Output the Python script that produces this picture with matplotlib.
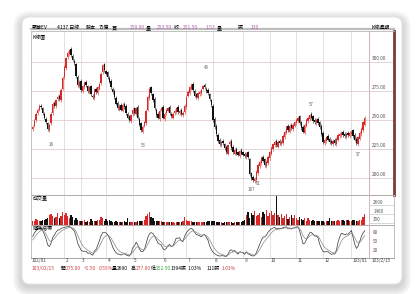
import numpy as np
import matplotlib
matplotlib.use('Agg')
import matplotlib.pyplot as plt
from matplotlib.patches import FancyBboxPatch

plt.rcParams['font.family'] = ['Noto Sans CJK TC', 'DejaVu Sans']

# daily candles
closes = [244, 249, 255, 259, 262, 261, 256, 252, 248, 242,
          246, 255, 264, 262, 267, 270, 268, 276, 286, 296,
          303, 308, 310, 306, 302, 299, 288, 280, 283, 276,
          279, 282, 280, 275, 278, 272, 270, 276, 274, 278,
          281, 290, 297, 293, 290, 287, 283, 278, 274, 270,
          264, 260, 262, 259, 263, 261, 256, 252, 250, 254,
          259, 256, 260, 252, 246, 241, 244, 248, 258, 270,
          277, 273, 267, 260, 254, 252, 258, 260, 252, 255,
          259, 260, 256, 253, 255, 258, 260, 257, 258, 255,
          256, 262, 270, 274, 278, 280, 276, 271, 270, 273,
          274, 276, 279, 278, 275, 273, 268, 263, 250, 244,
          238, 232, 229, 231, 230, 226, 222, 228, 231, 226,
          222, 224, 221, 220, 223, 221, 220, 219, 221, 218,
          203, 200, 198, 199, 205, 211, 214, 217, 215, 211,
          214, 218, 222, 226, 229, 231, 228, 231, 230, 231,
          236, 240, 244, 241, 245, 243, 246, 248, 250, 252,
          247, 243, 240, 246, 250, 252, 254, 252, 249, 248,
          250, 247, 244, 238, 231, 233, 235, 233, 231, 230,
          232, 230, 234, 237, 238, 239, 237, 236, 238, 237,
          239, 240, 236, 233, 230, 235, 239, 242, 248, 252]
opens = [242, 245, 250, 256, 259, 262, 260, 255, 251, 247,
         241, 247, 256, 265, 262, 268, 271, 267, 277, 287,
         295, 304, 307, 311, 305, 301, 298, 287, 279, 284,
         275, 278, 283, 279, 274, 279, 271, 269, 277, 273,
         277, 282, 291, 298, 292, 291, 286, 284, 277, 275,
         269, 265, 259, 263, 258, 264, 262, 255, 253, 249,
         255, 260, 255, 261, 251, 247, 240, 245, 247, 259,
         269, 278, 272, 268, 259, 255, 251, 259, 261, 251,
         256, 258, 261, 255, 252, 256, 257, 261, 256, 259,
         254, 257, 261, 271, 273, 277, 281, 275, 272, 269,
         272, 273, 277, 280, 277, 276, 272, 267, 262, 251,
         245, 237, 233, 228, 232, 229, 227, 221, 229, 232,
         227, 221, 225, 222, 219, 224, 222, 221, 218, 222,
         216, 204, 201, 197, 198, 204, 210, 213, 218, 216,
         210, 213, 217, 221, 225, 228, 232, 227, 232, 229,
         230, 235, 239, 245, 240, 246, 242, 245, 247, 249,
         253, 248, 244, 239, 245, 249, 251, 255, 253, 250,
         247, 251, 248, 245, 239, 230, 232, 236, 234, 232,
         229, 233, 229, 233, 236, 237, 240, 238, 235, 239,
         236, 238, 241, 237, 234, 229, 234, 238, 241, 246]
volume = [600, 520, 780, 660, 550, 480, 720, 640, 800, 920,
          1300, 1550, 1200, 900, 1100, 1650, 1000, 1250, 1800, 1400,
          1600, 1200, 950, 1300, 1050, 700, 900, 650, 600, 520,
          480, 620, 400, 550, 450, 800, 600, 500, 580, 620,
          700, 1100, 950, 600, 800, 550, 620, 480, 400, 450,
          520, 380, 400, 360, 420, 500, 450, 900, 400, 350,
          380, 450, 400, 500, 600, 500, 520, 650, 1200, 1500,
          1800, 1100, 900, 600, 600, 550, 480, 520, 450, 400,
          420, 380, 450, 400, 360, 340, 400, 380, 420, 360,
          600, 1100, 700, 550, 500, 480, 450, 400, 420, 380,
          360, 400, 450, 380, 420, 500, 600, 480, 550, 520,
          450, 400, 380, 360, 340, 400, 360, 380, 350, 400,
          340, 360, 380, 400, 360, 450, 600, 700, 1300, 1800,
          1000, 1600, 1400, 1900, 1200, 1300, 1700, 1100, 1800, 1500,
          2000, 1200, 1600, 1900, 1300, 1600, 4000, 1400, 1100, 1500,
          900, 1200, 1500, 800, 1100, 1400, 900, 1300, 1000, 700,
          1100, 800, 650, 900, 600, 1000, 700, 600, 620, 500,
          480, 550, 600, 480, 520, 460, 600, 520, 900, 600,
          550, 480, 520, 700, 600, 650, 750, 580, 700, 620,
          550, 480, 700, 650, 600, 500, 620, 750, 1100, 1500]

month_pos = [19, 29, 44, 60, 78, 92, 108, 126, 142, 158, 174, 191]
month_labels = ['2', '3', '4', '5', '6', '7', '8', '9', '10', '11', '12', '103/01']
first_label = '102/01'
last_label = '103/2/15'
price_ticks = [300, 275, 250, 225, 200]
vol_ticks = [300, 1480, 2690]
kd_ticks = [20, 50, 80]
marks = [(11, 229, '18'), (66, 228, '53'), (104, 295, '49'), (131, 190, '187'),
         (135, 195, '61'), (167, 263, '57'), (195, 220, '57')]

header = [(32, '聚華EV', 'k'), (57, '4137 日線', 'k'), (86, '股本', 'k'), (99, '75億', 'k'),
          (112, '買', 'k'), (130, '250.00', '#b060b0'), (146, '量', 'k'),
          (157, '253.50', '#b060b0'), (174, '收', 'k'), (183, '251.50', '#b060b0'),
          (206, '1.53', '#b060b0'), (217, '量', 'k'), (238, '張', 'k'), (251, '130', '#b060b0')]
footer = [(32, '103/02/15', '#d04040'), (61, '開', 'k'), (66, '275.00', '#d04040'),
          (84, '+1.50', '#d04040'), (99, '0.55%', '#d04040'), (112, '量', 'k'),
          (117, '2690', 'k'), (131, '高', 'k'), (136, '277.00', '#d04040'),
          (151, '低', 'k'), (156, '252.50', '#30a030'), (171, '1394張', 'k'),
          (188, '1.03%', 'k'), (207, '111張', 'k'), (222, '1.03%', '#d04040')]

W, H = 416, 294
fig = plt.figure(figsize=(W / 100, H / 100), dpi=100)
fig.patch.set_facecolor('white')


def box(x0, y0, x1, y1):
    return [x0 / W, 1 - y1 / H, (x1 - x0) / W, (y1 - y0) / H]


# background card with soft shadow (pixel coordinates)
bg = fig.add_axes([0, 0, 1, 1])
bg.set_xlim(0, W)
bg.set_ylim(H, 0)
bg.axis('off')
for k in range(9, 0, -1):
    bg.add_patch(FancyBboxPatch((22 - k, 17 - k + 3), 380 + 2 * k, 267 + 2 * k,
                                boxstyle='round,pad=0,rounding_size=%d' % (8 + k),
                                fc='#707070', ec='none', alpha=0.035))
bg.add_patch(FancyBboxPatch((22, 17), 380, 267, boxstyle='round,pad=0,rounding_size=8',
                            fc='white', ec='#e4e4e4', lw=0.6))

bg.plot([31, 394], [28.5, 28.5], color='#bdbdbd', lw=1.6)
for x, s, c in header:
    bg.text(x, 27.5, s, fontsize=3.6, color=c, va='center')
bg.text(372, 27.5, 'K線週期', fontsize=3.6, color='k', va='center')
for x, s, c in footer:
    bg.text(x, 268.5, s, fontsize=3.5, color=c, va='center')

XR = 201.5
XMAX = 216.5
n = len(closes)
idx = np.arange(n)
o = np.array(opens, float)
c = np.array(closes, float)
up = c >= o
cols = np.where(up, '#d82828', '#111111')

ax1 = fig.add_axes(box(31, 31, 394, 195))
ax2 = fig.add_axes(box(31, 195, 394, 225))
ax3 = fig.add_axes(box(31, 225, 394, 258))

for ax in (ax1, ax2, ax3):
    ax.set_xlim(-1, XMAX)
    ax.set_facecolor('none')
    ax.set_xticks([])
    ax.set_yticks([])
    for sp in ax.spines.values():
        sp.set_color('#b8b8b8')
        sp.set_linewidth(0.6)
    for m in month_pos:
        ax.axvline(m, color='#dcdcdc', lw=0.6, zorder=0)
    ax.axvline(XR, color='#c8a8a8', lw=0.6, zorder=1)
ax1.spines['bottom'].set_color('#8b4a4a')
ax1.spines['right'].set_color('#7a3a3a')
ax1.spines['right'].set_linewidth(2)
ax2.spines['bottom'].set_color('#8b4a4a')

# price panel
ax1.set_ylim(185.3, 326.7)
for p in price_ticks:
    ax1.axhline(p, color='#e3cccc', lw=0.6, zorder=0)
    ax1.text(XR + 1.5, p + 0.6, '%.2f' % p, fontsize=3.4, color='#555555', va='bottom')
body = np.maximum(np.abs(c - o), 0.6)
ax1.bar(idx, body, bottom=np.minimum(o, c), width=0.8, color=cols, lw=0, zorder=3)
ax1.vlines(idx, np.minimum(o, c) - 1.5, np.maximum(o, c) + 1.5, colors=cols, lw=0.4, zorder=3)
for x, y, s in marks:
    ax1.text(x, y, s, fontsize=3.2, color='#666666', ha='center', va='center')
ax1.text(0, 321, 'K線圖', fontsize=3.6, color='k', va='center')

# volume panel
ax2.set_ylim(0, 4100)
ax2.bar(idx, volume, width=0.8, color=cols, lw=0, zorder=3)
for v in vol_ticks:
    ax2.axhline(v, xmin=(XR + 1) / (XMAX + 1), color='#c8c8c8', lw=0.5)
    ax2.text(XR + 2.5, v + 60, str(v), fontsize=3.3, color='#555555', va='bottom')
ax2.text(0, 3600, '成交量', fontsize=3.6, color='k', va='center')

# stochastic panel computed from the candles (9-day KD)
hi = np.maximum(o, c)
lo = np.minimum(o, c)
kv, dv = 50.0, 50.0
K, D = [], []
for i in range(n):
    h9 = hi[max(0, i - 8):i + 1].max()
    l9 = lo[max(0, i - 8):i + 1].min()
    rsv = 100 * (c[i] - l9) / (h9 - l9) if h9 > l9 else 50
    kv = kv * 2 / 3 + rsv / 3
    dv = dv * 2 / 3 + kv / 3
    K.append(kv)
    D.append(dv)
ax3.set_ylim(-3, 104)
ax3.plot(idx, K, color='#333333', lw=0.5)
ax3.plot(idx, D, color='#888888', lw=0.5)
for t in kd_ticks:
    ax3.text(XR + 2.5, t, str(t), fontsize=3.3, color='#555555', va='center')
ax3.text(0, 96, '隨機指標', fontsize=3.6, color='k', va='center')
ax3.spines['bottom'].set_color('#999999')

# month labels under the stochastic panel
ax3.text(-0.5, -11, first_label, fontsize=3.4, color='#444444', va='center', clip_on=False)
for m, s in zip(month_pos, month_labels):
    ax3.text(m + 0.8, -11, s, fontsize=3.4, color='#444444', va='center', clip_on=False)
ax3.text(XR + 1.5, -11, last_label, fontsize=3.4, color='#444444', va='center', clip_on=False)

fig.savefig('out.png', dpi=100)
